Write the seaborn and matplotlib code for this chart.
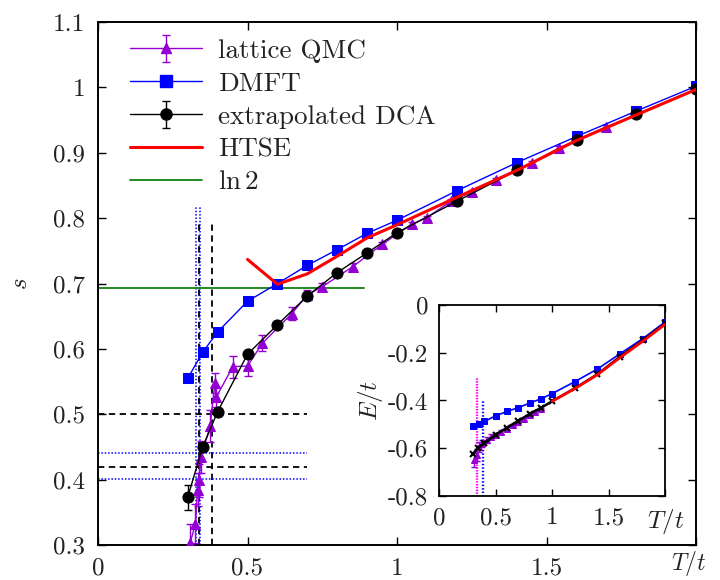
import numpy as np
import pandas as pd
import matplotlib
matplotlib.use("Agg")
import matplotlib.pyplot as plt
import matplotlib.transforms as mtransforms
import seaborn as sns

# ---------------- data (main panel: entropy s vs T/t) ----------------
qmc_T = [0.308, 0.326, 0.333, 0.337, 0.345, 0.375, 0.391, 0.396, 0.451, 0.50,
         0.55, 0.648, 0.70, 0.749, 0.852, 0.95, 1.05, 1.10, 1.18, 1.25, 1.33,
         1.45, 1.54, 1.70]
qmc_s = [0.303, 0.333, 0.385, 0.399, 0.435, 0.482, 0.548, 0.527, 0.573, 0.574,
         0.609, 0.654, 0.683, 0.695, 0.726, 0.760, 0.791, 0.801, 0.826, 0.840,
         0.859, 0.885, 0.907, 0.940]
qmc_err = [0.03, 0.03, 0.025, 0.025, 0.025, 0.024, 0.016, 0.015, 0.017, 0.015,
           0.012, 0.01, 0.008, 0.006, 0.005, 0.004, 0.003, 0.003, 0.003, 0.003,
           0.003, 0.003, 0.003, 0.003]

dmft_T = [0.30, 0.35, 0.40, 0.50, 0.60, 0.70, 0.80, 0.90, 1.0, 1.2, 1.4, 1.6, 1.8, 2.0]
dmft_s = [0.555, 0.595, 0.626, 0.673, 0.700, 0.728, 0.752, 0.777, 0.797, 0.842,
          0.885, 0.925, 0.964, 1.002]

dca_T = [0.30, 0.35, 0.40, 0.50, 0.60, 0.70, 0.80, 0.90, 1.0, 1.2, 1.4, 1.6, 1.8, 2.0]
dca_s = [0.373, 0.450, 0.504, 0.592, 0.637, 0.681, 0.717, 0.747, 0.778, 0.826,
         0.873, 0.919, 0.959, 0.997]
dca_err = [0.019, 0.006, 0.005, 0.004, 0.003, 0.003, 0.003, 0.003, 0.002, 0.002,
           0.002, 0.002, 0.002, 0.002]

htse_T = [0.50, 0.60, 0.70, 0.80, 0.90, 1.0, 1.2, 1.4, 1.6, 1.8, 2.0]
htse_s = [0.737, 0.699, 0.715, 0.742, 0.770, 0.790, 0.832, 0.873, 0.919, 0.958, 0.997]

ln2_T = [0.0, 0.888]
ln2_s = [np.log(2), np.log(2)]

# interval markers
vdash_T = [0.339, 0.382]     # black dashed verticals
vdot_T = [0.327, 0.342]      # blue dotted verticals
hdash_s = [0.50, 0.42]       # black dashed horizontals
hdot_s = [0.441, 0.401]      # blue dotted horizontals

# ---------------- data (inset: energy E/t vs T/t) ----------------
in_dmft_T = [0.30, 0.35, 0.40, 0.50, 0.60, 0.70, 0.80, 0.90, 1.0, 1.2, 1.4, 1.6, 1.8, 2.0]
in_dmft_E = [-0.509, -0.498, -0.488, -0.464, -0.446, -0.430, -0.411, -0.393,
             -0.371, -0.321, -0.268, -0.204, -0.141, -0.070]
in_dca_T = [0.30, 0.34, 0.40, 0.50, 0.60, 0.70, 0.80, 0.90, 1.0, 1.2, 1.4, 1.6, 1.8, 2.0]
in_dca_E = [-0.623, -0.600, -0.579, -0.543, -0.514, -0.485, -0.456, -0.431,
            -0.403, -0.349, -0.290, -0.216, -0.148, -0.077]
in_qmc_T = [0.31, 0.33, 0.35, 0.38, 0.42, 0.46, 0.50, 0.55, 0.60, 0.65, 0.70,
            0.75, 0.80, 0.85, 0.90]
in_qmc_E = [-0.650, -0.630, -0.595, -0.580, -0.565, -0.552, -0.545, -0.532,
            -0.519, -0.503, -0.490, -0.476, -0.462, -0.447, -0.434]
in_qmc_err = [0.03, 0.025, 0.02, 0.015, 0.012, 0.01, 0.008, 0.007, 0.006, 0.005,
              0.005, 0.004, 0.004, 0.004, 0.004]
in_htse_T = [1.0, 1.2, 1.4, 1.6, 1.8, 2.0]
in_htse_E = [-0.403, -0.350, -0.292, -0.220, -0.152, -0.080]
in_vmag_T = [0.325, 0.335]
in_vblue_T = [0.38, 0.39]

main_xticks = [0, 0.5, 1, 1.5, 2]
main_xticklabels = ["0", "0.5", "1", "1.5", "$T/t$"]
main_yticks = [0.3, 0.4, 0.5, 0.6, 0.7, 0.8, 0.9, 1.0, 1.1]
main_yticklabels = ["0.3", "0.4", "0.5", "0.6", "0.7", "0.8", "0.9", "1", "1.1"]
in_xticks = [0, 0.5, 1, 1.5, 2]
in_xticklabels = ["0", "0.5", "1", "1.5", "$T/t$"]
in_yticks = [-0.8, -0.6, -0.4, -0.2, 0]
in_yticklabels = ["-0.8", "-0.6", "-0.4", "-0.2", "0"]

# ---------------- style ----------------
sns.set_theme(style="ticks")
plt.rcParams["font.family"] = ["cmr10", "DejaVu Serif"]
plt.rcParams["mathtext.fontset"] = "cm"
plt.rcParams["axes.unicode_minus"] = False
plt.rcParams["axes.formatter.use_mathtext"] = True

PURPLE = "#9400D3"
BLUE = "#0000FF"
BLACK = "#000000"
RED = "#FF0000"
GREEN = "#228B22"
MAGENTA = "#FF00FF"
TXT = "#222222"

FS = 18

fig = plt.figure(figsize=(7.2, 5.8), dpi=100)
ax = fig.add_axes([0.136, 0.060, 0.831, 0.902])

df_qmc = pd.DataFrame({"T": qmc_T, "s": qmc_s})
df_dmft = pd.DataFrame({"T": dmft_T, "s": dmft_s})
df_dca = pd.DataFrame({"T": dca_T, "s": dca_s})
df_htse = pd.DataFrame({"T": htse_T, "s": htse_s})
df_ln2 = pd.DataFrame({"T": ln2_T, "s": ln2_s})

# interval guides
for xv in vdot_T:
    ax.plot([xv, xv], [0.3, 0.818], color=BLUE, ls=(0, (1, 1.2)), lw=1.1, zorder=1)
for xv in vdash_T:
    ax.plot([xv, xv], [0.3, 0.798], color=BLACK, ls=(0, (3.5, 2.5)), lw=1.3, zorder=1)
for yv in hdash_s:
    ax.plot([0, 0.70], [yv, yv], color=BLACK, ls=(0, (3.5, 2.5)), lw=1.3, zorder=1)
for yv in hdot_s:
    ax.plot([0, 0.70], [yv, yv], color=BLUE, ls=(0, (1, 1.2)), lw=1.1, zorder=1)

sns.lineplot(data=df_ln2, x="T", y="s", ax=ax, color=GREEN, lw=1.4, zorder=2,
             sort=False, estimator=None)
sns.lineplot(data=df_qmc, x="T", y="s", ax=ax, color=PURPLE, lw=1.0, marker="^",
             markersize=7, markeredgecolor=PURPLE, zorder=3, sort=False, estimator=None)
ax.errorbar(qmc_T, qmc_s, yerr=qmc_err, fmt="none", ecolor=PURPLE, elinewidth=1.0,
            capsize=3, zorder=3)
sns.lineplot(data=df_dmft, x="T", y="s", ax=ax, color=BLUE, lw=1.0, marker="s",
             markersize=7, markeredgecolor=BLUE, zorder=4, sort=False, estimator=None)
sns.lineplot(data=df_dca, x="T", y="s", ax=ax, color=BLACK, lw=1.0, marker="o",
             markersize=8, markeredgecolor=BLACK, zorder=5, sort=False, estimator=None)
ax.errorbar(dca_T, dca_s, yerr=dca_err, fmt="none", ecolor=BLACK, elinewidth=1.0,
            capsize=3, zorder=5)
sns.lineplot(data=df_htse, x="T", y="s", ax=ax, color=RED, lw=2.2, zorder=6,
             sort=False, estimator=None)

ax.set_xlim(0, 2)
ax.set_ylim(0.3, 1.1)
ax.set_xticks(main_xticks)
ax.set_xticklabels(main_xticklabels)
ax.set_yticks(main_yticks)
ax.set_yticklabels(main_yticklabels)
ax.set_xlabel("")
ax.set_ylabel("$s$", fontsize=FS, labelpad=15, color=TXT)
ax.tick_params(direction="in", top=True, right=True, length=6, width=1.0,
               labelsize=FS, pad=9, color=BLACK, labelcolor=TXT)
for sp in ax.spines.values():
    sp.set_color(BLACK)
    sp.set_linewidth(1.4)
    sp.set_visible(True)
# keep the last x label (T/t) inside the figure
last = ax.get_xticklabels()[-1]
last.set_fontsize(17)
last.set_transform(last.get_transform() +
                   mtransforms.ScaledTranslation(-8 / 100, 9 / 100, fig.dpi_scale_trans))

# legend proxies
h_qmc = ax.errorbar([np.nan], [np.nan], yerr=[np.nan], fmt="-^", color=PURPLE,
                    ms=7, lw=1.0, capsize=3)
h_dmft, = ax.plot([np.nan], [np.nan], "-s", color=BLUE, ms=8, lw=1.0)
h_dca = ax.errorbar([np.nan], [np.nan], yerr=[np.nan], fmt="-o", color=BLACK,
                    ms=8, lw=1.0, capsize=3)
h_htse, = ax.plot([np.nan], [np.nan], "-", color=RED, lw=2.2)
h_ln2, = ax.plot([np.nan], [np.nan], "-", color=GREEN, lw=1.4)
leg = ax.legend([h_qmc, h_dmft, h_dca, h_htse, h_ln2],
                ["lattice QMC", "DMFT", "extrapolated DCA", "HTSE", "$\\ln 2$"],
                loc="upper left", bbox_to_anchor=(0.0535, 0.968), frameon=False,
                fontsize=19.5, handlelength=2.65, handletextpad=0.6,
                labelspacing=0.33, borderpad=0, borderaxespad=0)
for t in leg.get_texts():
    t.set_color(TXT)

# ---------------- inset ----------------
ax2 = fig.add_axes([0.610, 0.145, 0.314, 0.329])
df_in_dmft = pd.DataFrame({"T": in_dmft_T, "E": in_dmft_E})
df_in_dca = pd.DataFrame({"T": in_dca_T, "E": in_dca_E})
df_in_qmc = pd.DataFrame({"T": in_qmc_T, "E": in_qmc_E})
df_in_htse = pd.DataFrame({"T": in_htse_T, "E": in_htse_E})

for xv in in_vmag_T:
    ax2.plot([xv, xv], [-0.8, -0.30], color=MAGENTA, ls=(0, (1, 1)), lw=1.0, zorder=1)
for xv in in_vblue_T:
    ax2.plot([xv, xv], [-0.8, -0.40], color=BLUE, ls=(0, (1, 1.5)), lw=1.0, zorder=1)

sns.lineplot(data=df_in_qmc, x="T", y="E", ax=ax2, color=PURPLE, lw=1.0, marker="^",
             markersize=4, markeredgecolor=PURPLE, zorder=2, sort=False, estimator=None)
ax2.errorbar(in_qmc_T, in_qmc_E, yerr=in_qmc_err, fmt="none", ecolor=PURPLE,
             elinewidth=1.0, capsize=2, zorder=2)
sns.lineplot(data=df_in_dmft, x="T", y="E", ax=ax2, color=BLUE, lw=1.2, marker="s",
             markersize=5, markeredgecolor=BLUE, zorder=3, sort=False, estimator=None)
sns.lineplot(data=df_in_dca, x="T", y="E", ax=ax2, color=BLACK, lw=1.8, marker="x",
             markersize=4, markeredgecolor=BLACK, markeredgewidth=1.5, zorder=4,
             sort=False, estimator=None)
sns.lineplot(data=df_in_htse, x="T", y="E", ax=ax2, color=RED, lw=2.0, zorder=5,
             sort=False, estimator=None)

ax2.set_xlim(0, 2)
ax2.set_ylim(-0.8, 0)
ax2.set_xticks(in_xticks)
ax2.set_xticklabels(in_xticklabels)
ax2.set_yticks(in_yticks)
ax2.set_yticklabels(in_yticklabels)
ax2.set_xlabel("")
ax2.set_ylabel("$E/t$", fontsize=FS, labelpad=2, color=TXT)
ax2.tick_params(direction="in", top=True, right=True, length=5, width=1.0,
                labelsize=FS, pad=8, color=BLACK, labelcolor=TXT)
for sp in ax2.spines.values():
    sp.set_color(BLACK)
    sp.set_linewidth(1.3)
    sp.set_visible(True)
ax2.set_facecolor("white")

fig.savefig("out.png", dpi=100)
